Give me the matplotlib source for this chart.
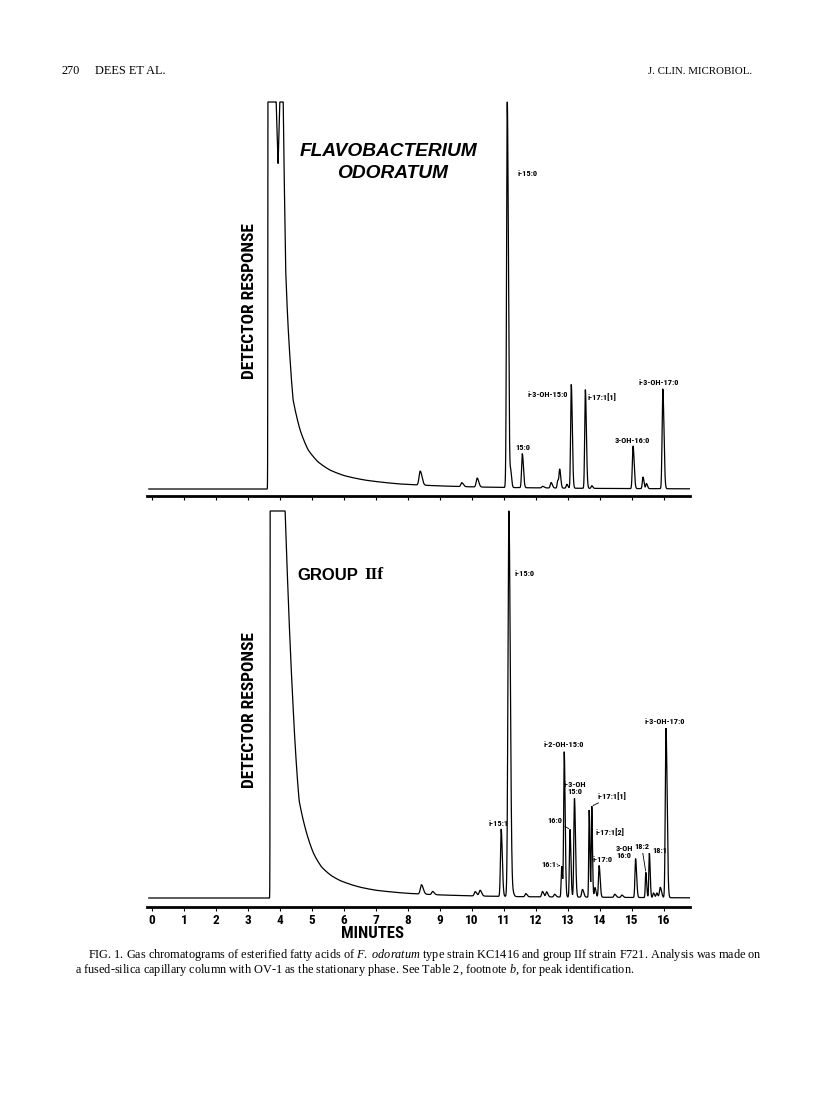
import numpy as np
import matplotlib
matplotlib.use("Agg")
import matplotlib.pyplot as plt
from matplotlib import font_manager

W, H, DPI = 816, 1095, 100

# --- data (time in min, response in % of full scale)
# solvent front + baseline drift, upper trace
top_tail_t = [-0.10, 3.60, 3.62, 3.88, 3.94, 3.99, 4.10, 4.14, 4.18, 4.24, 4.31, 4.41, 4.63,
              4.88, 5.19, 5.56, 6.03, 6.66, 7.75, 9.00, 10.0, 11.0, 12.0, 14.0, 16.8]
top_tail_v = [0, 0, 100, 100, 84, 100, 100, 76, 56, 44, 34, 23, 15.2,
              10.1, 7.0, 4.9, 3.4, 2.3, 1.3, 0.8, 0.55, 0.4, 0.3, 0.15, 0.05]
top_rt = [8.38, 9.68, 10.16, 11.10, 11.21, 11.57, 12.21, 12.47, 12.68, 12.74, 12.96,
          13.10, 13.54, 13.74, 15.03, 15.34, 15.45, 15.96]
top_h = [3.6, 1.0, 2.3, 100, 4.0, 8.8, 0.4, 1.4, 2.0, 4.6, 1.0,
         26.8, 25.5, 0.7, 11.0, 3.0, 1.3, 25.8]
top_w = [0.035, 0.03, 0.03, 0.022, 0.018, 0.022, 0.03, 0.025, 0.02, 0.02, 0.02,
         0.02, 0.02, 0.02, 0.022, 0.02, 0.02, 0.022]
top_lab = ["i-15:0", "15:0", "i-3-OH-15:0", "i-17:1[1]", "3-OH-16:0", "i-3-OH-17:0"]
top_lab_rt = [11.10, 11.57, 13.10, 13.54, 15.03, 15.96]

# lower trace
bot_tail_t = [-0.10, 3.67, 3.69, 4.16, 4.21, 4.26, 4.33, 4.40, 4.50, 4.60, 4.83, 5.05, 5.30,
              5.60, 5.88, 6.50, 7.00, 8.00, 9.00, 10.0, 11.0, 12.0, 14.0, 16.8]
bot_tail_v = [0, 0, 100, 100, 88, 77, 63, 51, 36, 25, 16.8, 11.5, 8.0,
              5.8, 4.5, 2.8, 2.0, 1.2, 0.8, 0.55, 0.4, 0.3, 0.2, 0.05]
bot_rt = [8.42, 8.77, 10.10, 10.25, 10.91, 11.15, 11.29, 11.68, 12.20, 12.33, 12.58,
          12.80, 12.88, 13.06, 13.20, 13.45, 13.66, 13.74, 13.84, 13.97, 14.46, 14.68,
          15.11, 15.43, 15.54, 15.67, 15.77, 15.88, 16.06]
bot_h = [2.4, 0.8, 1.1, 1.5, 17.4, 100, 0.7, 0.8, 1.4, 1.3, 0.7,
         8.0, 37.5, 17.5, 25.5, 2.0, 22.5, 23.5, 2.5, 8.2, 0.8, 0.6,
         10.0, 6.5, 11.5, 1.2, 1.2, 2.7, 43.8]
bot_w = [0.035, 0.03, 0.03, 0.03, 0.022, 0.028, 0.02, 0.025, 0.025, 0.025, 0.025,
         0.016, 0.018, 0.018, 0.02, 0.025, 0.014, 0.014, 0.02, 0.02, 0.025, 0.025,
         0.02, 0.016, 0.016, 0.02, 0.02, 0.025, 0.022]
bot_lab = ["i-15:0", "i-15:1", "i-2-OH-15:0", "i-3-OH\n15:0", "16:0", "16:1",
           "i-17:1[1]", "i-17:1[2]", "i-17:0", "3-OH\n16:0", "18:2", "18:1", "i-3-OH-17:0"]
bot_lab_rt = [11.15, 10.91, 12.88, 13.20, 13.06, 12.80,
              13.74, 13.66, 13.97, 15.11, 15.43, 15.54, 16.06]

minutes = list(range(17))


def narrow_font():
    names = {f.name for f in font_manager.fontManager.ttflist}
    for n in ["Roboto Condensed", "Liberation Sans Narrow", "Archivo Narrow", "Barlow Condensed"]:
        if n in names:
            return n
    return "DejaVu Sans"


NARROW = narrow_font()


def trace(t, tail_t, tail_v, rt, h, w):
    # baseline drawn through the read points on a log scale so the tail stays smooth
    y = np.exp(np.interp(t, tail_t, np.log(np.array(tail_v) + 0.1))) - 0.1
    for r, a, s in zip(rt, h, w):
        sig = np.where(t < r, s, s * 1.6)
        y = y + a * np.exp(-0.5 * ((t - r) / sig) ** 2)
    return np.minimum(y, 100)


def panel(fig, top_px, spine_px, base_px, full_px, labels_on):
    unit = (base_px - full_px) / 100.0
    ax = fig.add_axes([147 / W, 1 - spine_px / H, 543 / W, (spine_px - top_px) / H])
    ax.set_xlim(-0.156, 16.81)
    ax.set_ylim(-(spine_px - base_px) / unit, 100 + (full_px - top_px) / unit)
    for s in ["top", "left", "right"]:
        ax.spines[s].set_visible(False)
    ax.spines["bottom"].set_linewidth(2.0)
    ax.set_yticks([])
    ax.set_xticks(minutes)
    ax.tick_params(axis="x", direction="out", length=3, width=0.8, pad=2,
                   labelbottom=labels_on, labelsize=9.5)
    for lb in ax.get_xticklabels():
        lb.set_fontfamily(NARROW)
        lb.set_fontweight("bold")
    ax.patch.set_visible(False)
    return ax


fig = plt.figure(figsize=(W / DPI, H / DPI), dpi=DPI)
t = np.linspace(-0.10, 16.8, 8000)

# ---------------- upper panel: F. odoratum
ax1 = panel(fig, 100, 496, 489, 102, False)
y1 = trace(t, top_tail_t, top_tail_v, top_rt, top_h, top_w)
ax1.plot(t, y1, color="black", lw=0.9, solid_joinstyle="miter")

lab_style = dict(fontsize=6, fontfamily=NARROW, fontweight="bold", textcoords="offset points")
# offsets in pixels from the peak apex: dx, dy, ha, va
top_pos = [(10, -71, "left", "center"), (1, 3, "center", "bottom"), (-3, -10, "right", "center"),
           (2, -8, "left", "center"), (-1, 2, "center", "bottom"), (-4, 3, "center", "bottom")]
for txt, r, (dx, dy, ha, va) in zip(top_lab, top_lab_rt, top_pos):
    i = np.argmin(abs(t - r))
    ax1.annotate(txt, xy=(r, y1[i]), xytext=(dx * 0.72, dy * 0.72), ha=ha, va=va, **lab_style)

# ---------------- lower panel: group IIf
ax2 = panel(fig, 509, 907, 898, 511, True)
y2 = trace(t, bot_tail_t, bot_tail_v, bot_rt, bot_h, bot_w)
ax2.plot(t, y2, color="black", lw=0.9, solid_joinstyle="miter")

line = dict(arrowstyle="-", lw=0.6, color="black", shrinkA=0, shrinkB=1)
dots = dict(arrowstyle="->", lw=0.6, color="black", ls=":", shrinkA=0, shrinkB=1,
            mutation_scale=5)
bot_pos = [(6, -63, "left", "center", None), (-3, 2, "center", "bottom", None),
           (0, 4, "center", "bottom", None), (0, 3, "center", "bottom", None),
           (-8, 9, "right", "center", line), (-5, 2, "right", "center", dots),
           (6, 10, "left", "center", line), (6, -22, "left", "center", None),
           (4, 3, "center", "bottom", None), (-3, 7, "right", "center", line),
           (-4, 22, "center", "bottom", line), (3, 3, "left", "center", None),
           (-1, 3, "center", "bottom", None)]
for txt, r, (dx, dy, ha, va, arr) in zip(bot_lab, bot_lab_rt, bot_pos):
    i = np.argmin(abs(t - r))
    ax2.annotate(txt, xy=(r, y2[i]), xytext=(dx * 0.72, dy * 0.72), ha=ha, va=va,
                 multialignment="center", linespacing=1.0, arrowprops=arr, **lab_style)


# ---------------- texts around the panels
def px(x, y):
    return x / W, 1 - y / H


for yc in (301, 710):
    fig.text(*px(249, yc), "DETECTOR RESPONSE", rotation=90, ha="center", va="center",
             fontsize=12.5, fontfamily=NARROW, fontweight="bold")
fig.text(*px(388, 151), "FLAVOBACTERIUM", ha="center", va="center", fontsize=13.8,
         fontfamily="Liberation Sans", fontweight="bold", fontstyle="italic")
fig.text(*px(393, 174), "ODORATUM", ha="center", va="center", fontsize=13.8,
         fontfamily="Liberation Sans", fontweight="bold", fontstyle="italic")
fig.text(*px(358, 575), "GROUP", ha="right", va="center", fontsize=12,
         fontfamily="Liberation Sans", fontweight="bold")
fig.text(*px(364, 575), "IIf", ha="left", va="center", fontsize=12.5,
         fontfamily="Liberation Serif", fontweight="bold")
fig.text(*px(372, 933), "MINUTES", ha="center", va="center", fontsize=12,
         fontfamily=NARROW, fontweight="bold")

plt.rcParams["mathtext.fontset"] = "custom"
plt.rcParams["mathtext.rm"] = "Liberation Serif"
plt.rcParams["mathtext.it"] = "Liberation Serif:italic"
serif = dict(fontfamily="Liberation Serif", fontsize=8.8, va="center")
fig.text(*px(62, 71), "270", ha="left", **serif)
fig.text(*px(95, 71), "DEES ET AL.", ha="left", **serif)
fig.text(*px(752, 71), "J. CLIN. MICROBIOL.", ha="right", fontfamily="Liberation Serif",
         fontsize=7.8, va="center")
fig.text(*px(88, 955), r"FIG. 1. Gas chromatograms of esterified fatty acids of $\mathit{F.\ odoratum}$"
         r" type strain KC1416 and group IIf strain F721. Analysis was made on", ha="left", **serif)
fig.text(*px(75, 970), r"a fused-silica capillary column with OV-1 as the stationary phase. See Table 2,"
         r" footnote $\mathit{b}$, for peak identification.", ha="left", **serif)

fig.savefig("out.png", dpi=DPI)
